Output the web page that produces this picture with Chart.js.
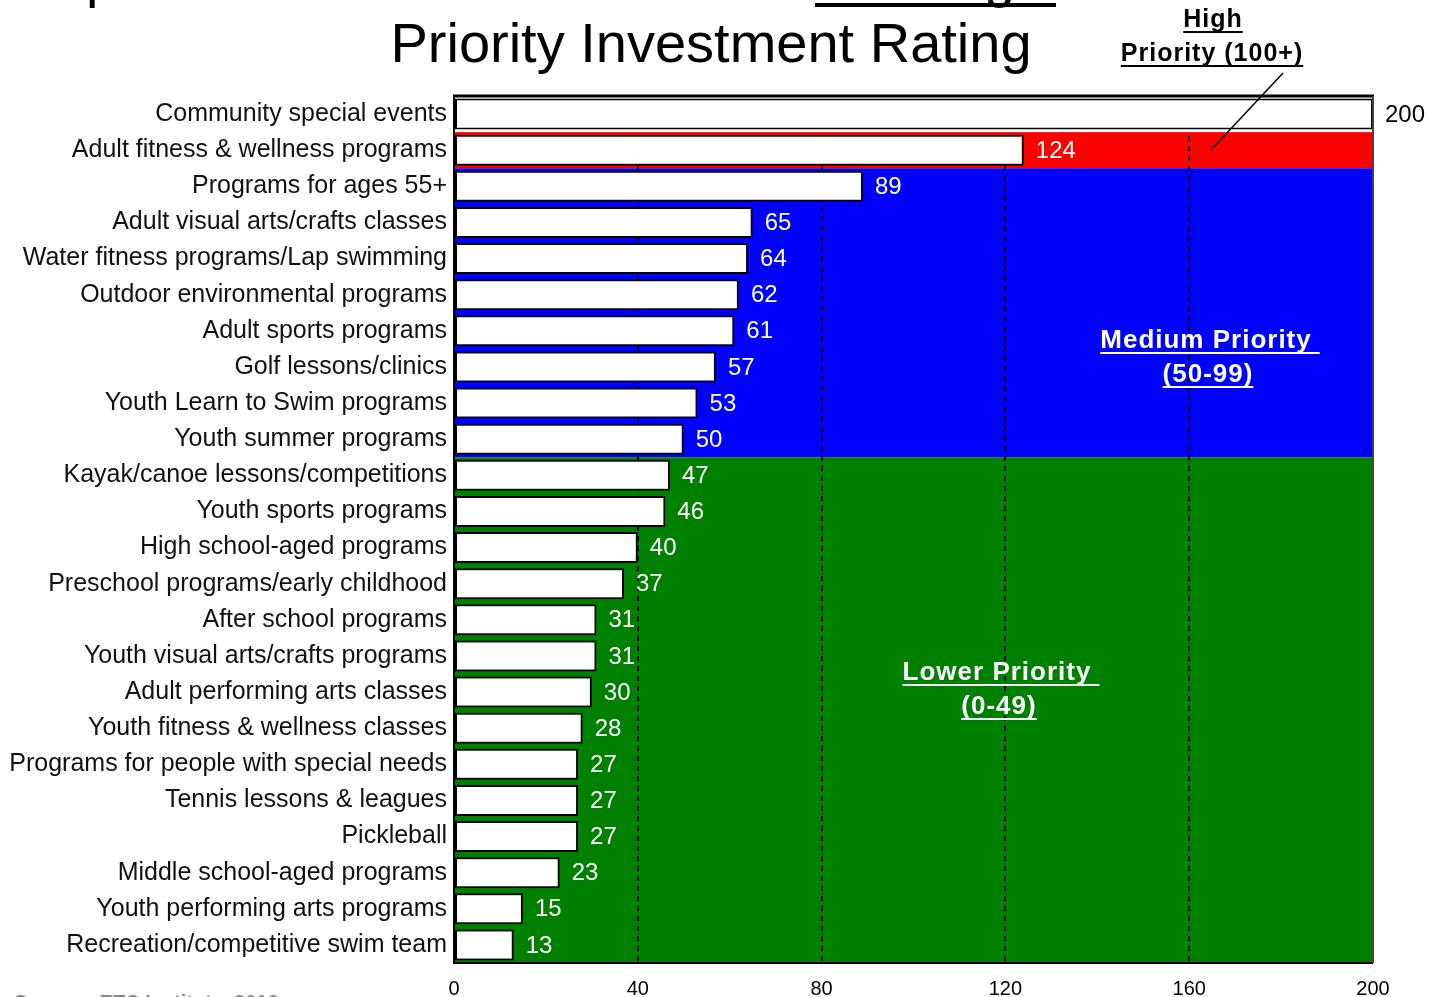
<!DOCTYPE html>
<html>
<head>
<meta charset="utf-8">
<title>Priority Investment Rating</title>
<script src="https://cdn.jsdelivr.net/npm/chart.js@4.4.1/dist/chart.umd.min.js"></script>
<style>
    html, body { margin: 0; padding: 0; background: #fff; }
    #wrap { width: 1431px; height: 997px; position: relative; }
</style>
</head>
<body>
<div id="wrap"><canvas id="pirChart"></canvas></div>
<script>
// Categorie (dall'alto verso il basso)
const categories = [
    'Community special events',
    'Adult fitness & wellness programs',
    'Programs for ages 55+',
    'Adult visual arts/crafts classes',
    'Water fitness programs/Lap swimming',
    'Outdoor environmental programs',
    'Adult sports programs',
    'Golf lessons/clinics',
    'Youth Learn to Swim programs',
    'Youth summer programs',
    'Kayak/canoe lessons/competitions',
    'Youth sports programs',
    'High school-aged programs',
    'Preschool programs/early childhood',
    'After school programs',
    'Youth visual arts/crafts programs',
    'Adult performing arts classes',
    'Youth fitness & wellness classes',
    'Programs for people with special needs',
    'Tennis lessons & leagues',
    'Pickleball',
    'Middle school-aged programs',
    'Youth performing arts programs',
    'Recreation/competitive swim team'
];

// Valori PIR
const ratings = [200, 124, 89, 65, 64, 62, 61, 57, 53, 50, 47, 46, 40, 37, 31, 31, 30, 28, 27, 27, 27, 23, 15, 13];

// Tick dell'asse x
const xTicks = [0, 40, 80, 120, 160, 200];

// Fasce di priorita' (indici delle categorie)
const tierNames = ['High', 'Medium', 'Lower'];
const tierFirstRow = [1, 2, 10];
const tierLastRow = [1, 9, 23];
const tierColors = ['#ff0000', '#0000ff', '#008000'];

const FONT = '"Liberation Sans", Arial, sans-serif';

// Sfondo colorato dietro le barre
const bandsPlugin = {
    id: 'bands',
    beforeDraw(chart) {
        const { ctx, chartArea, scales } = chart;
        const y = scales.y;
        const half = (y.getPixelForValue(1) - y.getPixelForValue(0)) / 2;
        ctx.save();
        for (let i = 0; i < tierNames.length; i++) {
            const top = y.getPixelForValue(tierFirstRow[i]) - half;
            const bottom = y.getPixelForValue(tierLastRow[i]) + half;
            ctx.fillStyle = tierColors[i];
            ctx.fillRect(chartArea.left, top, chartArea.right - chartArea.left, bottom - top);
        }
        ctx.restore();
    },
    // la prima riga resta bianca (copre la griglia)
    beforeDatasetsDraw(chart) {
        const { ctx, chartArea, scales } = chart;
        const y = scales.y;
        const half = (y.getPixelForValue(1) - y.getPixelForValue(0)) / 2;
        ctx.save();
        ctx.fillStyle = '#fff';
        ctx.fillRect(chartArea.left, chartArea.top, chartArea.right - chartArea.left, y.getPixelForValue(0) + half - chartArea.top - 1);
        ctx.restore();
    }
};

// Etichette dei valori, cornice, titolo e note
const labelsPlugin = {
    id: 'labels',
    afterDatasetsDraw(chart) {
        const { ctx, chartArea } = chart;
        const meta = chart.getDatasetMeta(0);
        ctx.save();
        ctx.font = '24px ' + FONT;
        ctx.textBaseline = 'middle';
        ctx.textAlign = 'left';
        meta.data.forEach((bar, i) => {
            ctx.fillStyle = bar.x >= chartArea.right - 2 ? '#000' : '#fff';
            ctx.fillText(ratings[i], bar.x + 12, bar.y + 1);
        });

        // cornice
        ctx.strokeStyle = '#000';
        ctx.lineWidth = 3;
        ctx.beginPath();
        ctx.moveTo(chartArea.left - 1, chartArea.top);
        ctx.lineTo(chartArea.right + 1, chartArea.top);
        ctx.stroke();
        ctx.lineWidth = 2;
        ctx.beginPath();
        ctx.moveTo(chartArea.left, chartArea.top);
        ctx.lineTo(chartArea.left, chartArea.bottom);
        ctx.lineTo(chartArea.right, chartArea.bottom);
        ctx.stroke();
        ctx.strokeStyle = '#444';
        ctx.beginPath();
        ctx.moveTo(chartArea.right, chartArea.top);
        ctx.lineTo(chartArea.right, chartArea.bottom);
        ctx.stroke();
        ctx.restore();
    },
    afterDraw(chart) {
        const { ctx } = chart;
        ctx.save();

        // titolo tagliato in alto
        ctx.fillStyle = '#000';
        ctx.font = '56px ' + FONT;
        ctx.textAlign = 'left';
        ctx.textBaseline = 'alphabetic';
        ctx.fillText('p', 86, -4);
        ctx.fillText('g', 984, -4);
        ctx.fillRect(815, 3, 241, 4);

        // titolo
        ctx.textAlign = 'center';
        ctx.fillText('Priority Investment Rating', 711, 62);

        // fasce
        ctx.letterSpacing = '1px';
        const underlined = (text, x, y, color, extra) => {
            ctx.fillStyle = color;
            ctx.fillText(text, x, y);
            const tw = ctx.measureText(text).width;
            ctx.fillRect(x - tw / 2, y + 4, tw + (extra || 0), 2);
        };
        ctx.font = 'bold 25px ' + FONT;
        underlined('High', 1213, 27, '#000');
        underlined('Priority (100+)', 1212, 61, '#000');
        ctx.font = 'bold 26px ' + FONT;
        underlined('Medium Priority', 1206, 348, '#fff', 8);
        underlined('(50-99)', 1208, 382, '#fff');
        underlined('Lower Priority', 997, 680, '#fff', 8);
        underlined('(0-49)', 999, 714, '#fff');
        ctx.letterSpacing = '0px';

        // freccia verso la fascia alta
        ctx.strokeStyle = '#000';
        ctx.lineWidth = 1.5;
        ctx.beginPath();
        ctx.moveTo(1283, 73);
        ctx.lineTo(1211, 150);
        ctx.stroke();

        // fonte (tagliata in basso)
        ctx.fillStyle = '#888';
        ctx.font = 'bold 20px ' + FONT;
        ctx.textAlign = 'left';
        ctx.textBaseline = 'top';
        ctx.fillText('Source:  ETC Institute  2016', 14, 993);
        ctx.restore();
    }
};

const pirData = {
    labels: categories,
    datasets: [{
        label: 'Priority Investment Rating',
        data: ratings,
        backgroundColor: '#ffffff',
        borderColor: '#000000',
        borderWidth: 2,
        borderSkipped: false,
        categoryPercentage: 1,
        barPercentage: 0.86
    }]
};

const pirConfig = {
    type: 'bar',
    data: pirData,
    options: {
        indexAxis: 'y',
        responsive: true,
        maintainAspectRatio: false,
        animation: false,
        layout: {
            padding: { top: 96, right: 58, left: 0, bottom: 0 }
        },
        plugins: {
            legend: { display: false },
            tooltip: { enabled: false }
        },
        scales: {
            x: {
                min: 0,
                max: 200,
                afterBuildTicks: scale => {
                    scale.ticks = xTicks.map(v => ({ value: v }));
                },
                afterFit: scale => { scale.height = 34; },
                ticks: {
                    color: '#000',
                    font: { family: FONT, size: 20 },
                    padding: 14
                },
                grid: {
                    drawTicks: false,
                    lineWidth: 2,
                    color: ctx => (ctx.tick && (ctx.tick.value === 0 || ctx.tick.value === 200)) ? 'rgba(0,0,0,0)' : '#000'
                },
                border: { display: false, dash: [5, 5] }
            },
            y: {
                afterFit: scale => { scale.width = 454; },
                ticks: {
                    color: '#111',
                    font: { family: FONT, size: 25 },
                    padding: 7,
                    autoSkip: false
                },
                grid: { display: false, drawTicks: false },
                border: { display: false }
            }
        }
    },
    plugins: [bandsPlugin, labelsPlugin]
};

const pirChart = new Chart(document.getElementById('pirChart'), pirConfig);
</script>
</body>
</html>
